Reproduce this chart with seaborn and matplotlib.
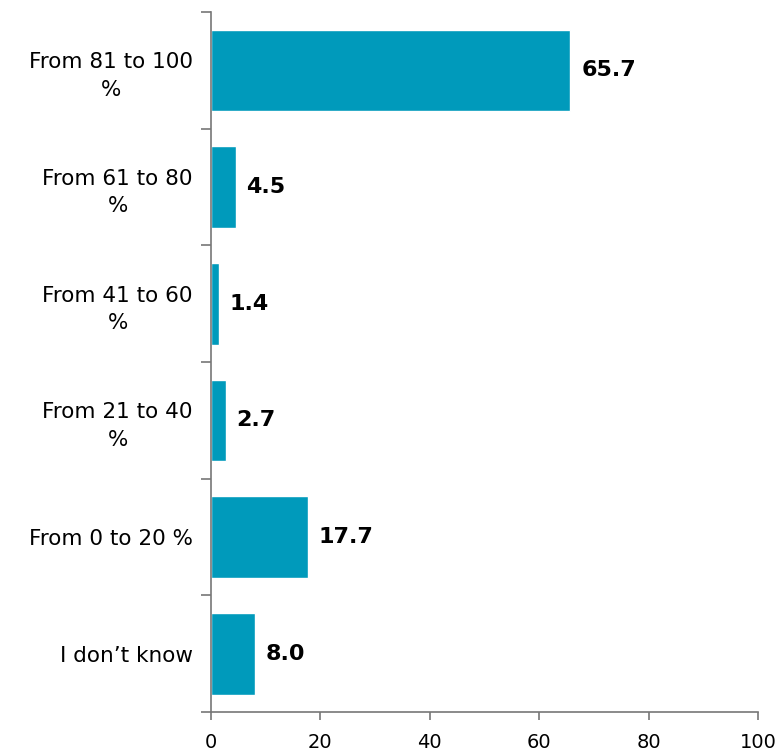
import matplotlib
matplotlib.use("Agg")
import matplotlib.pyplot as plt
import seaborn as sns
import pandas as pd

categories = ["From 81 to 100\n%", "From 61 to 80\n%", "From 41 to 60\n%",
              "From 21 to 40\n%", "From 0 to 20 %", "I don\u2019t know"]
values = [65.7, 4.5, 1.4, 2.7, 17.7, 8.0]
x_ticks = [0, 20, 40, 60, 80, 100]

df = pd.DataFrame({"category": categories, "value": values})

sns.set_theme(style="white")
plt.rcParams["font.family"] = ["DejaVu Sans"]

fig = plt.figure(figsize=(7.82, 7.56), dpi=100)
ax = fig.add_axes([211 / 782, 44 / 756, 547 / 782, 700 / 756])

bar_color = "#009ABB"
sns.barplot(data=df, x="value", y="category", orient="h", color=bar_color,
            saturation=1, width=0.7, ax=ax)

ax.set_xlim(0, 100)
ax.set_ylim(len(categories) - 0.5, -0.5)
ax.set_xticks(x_ticks)
ax.set_xticklabels([str(t) for t in x_ticks], fontsize=14, color="black")

# category boundaries carry the ticks, labels sit at band centres
ax.set_yticks([i - 0.5 for i in range(len(categories) + 1)])
ax.set_yticklabels([])
ax.set_yticks(range(len(categories)), minor=True)
ax.set_yticklabels(categories, minor=True, fontsize=15.5, color="black",
                   multialignment="center", linespacing=1.45)
ax.tick_params(axis="y", which="minor", length=0, pad=13)
ax.tick_params(axis="y", which="major", length=7, width=1.2, color="#777777",
               direction="out", left=True)
ax.tick_params(axis="x", which="major", length=6, width=1.2, color="#777777",
               direction="out", bottom=True, pad=9)

for side in ["top", "right"]:
    ax.spines[side].set_visible(False)
for side in ["left", "bottom"]:
    ax.spines[side].set_color("#777777")
    ax.spines[side].set_linewidth(1.2)

ax.set_xlabel("")
ax.set_ylabel("")

for i, v in enumerate(values):
    ax.text(v + 2.0, i, f"{v:.1f}", va="center", ha="left",
            fontsize=16, fontweight="bold", color="black")

fig.savefig("out.png", dpi=100)
